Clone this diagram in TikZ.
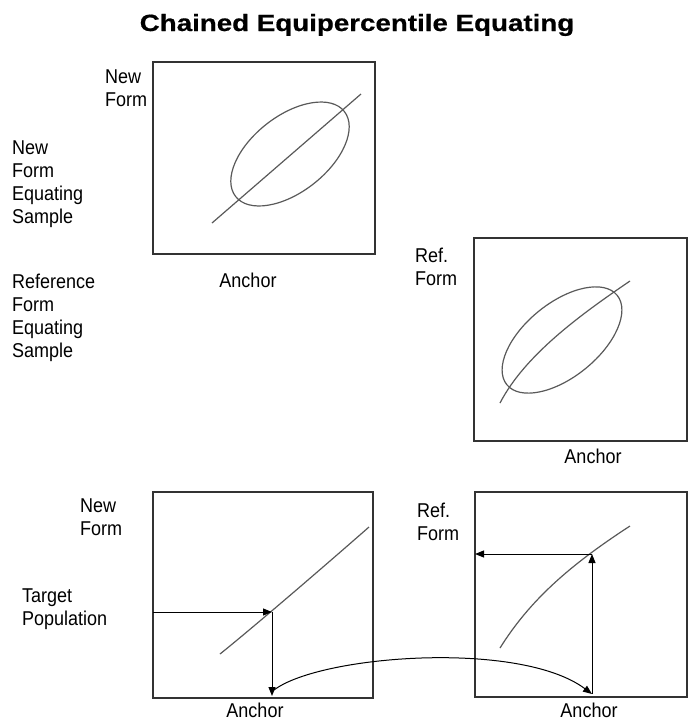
\documentclass[tikz,border=0pt]{standalone}
\usepackage{fontspec}
\setmainfont{Liberation Sans}[FakeStretch=0.9]
\newfontfamily\titlefont{Liberation Sans}[FakeStretch=1.18,FakeBold=0.6]
\usetikzlibrary{arrows.meta}
\newcommand\lbl[1]{\begin{tabular}[t]{@{}l@{}}#1\end{tabular}}
\tikzset{
  plotbox/.style={draw=black!80, line width=1.3pt},
  plotcurve/.style={draw=black!65, line width=1.2pt},
  arr/.style={draw=black, line width=1pt, -{Triangle[length=9pt,width=7pt]}},
  txt/.style={font=\fontsize{20}{23}\selectfont, inner sep=0pt},
  ttl/.style={font=\titlefont\bfseries\fontsize{23.5}{27}\selectfont, inner sep=0pt}
}
\begin{document}
\begin{tikzpicture}[x=1pt,y=1pt]
\useasboundingbox (0,0) rectangle (688,-721);
% title
\node[ttl, anchor=base] (title) at (357,-31) {Chained Equipercentile Equating};

% boxes
\draw[plotbox] (153,-62) rectangle (375,-254);
\draw[plotbox] (474,-238) rectangle (687,-441);
\draw[plotbox] (153,-492) rectangle (373,-698);
\draw[plotbox] (475,-492) rectangle (687,-697);

% box 1 content
\draw[plotcurve, rotate around={38:(290,-154)}] (290,-154) ellipse [x radius=69pt, y radius=38pt];
\draw[plotcurve] (212,-223) -- (361,-94);

% box 2 content
\draw[plotcurve, rotate around={39:(562,-340)}] (562,-340) ellipse [x radius=71pt, y radius=37pt];
\draw[plotcurve] (500,-403) .. controls (525,-355) and (580,-315) .. (630,-281);

% box 3 content
\draw[plotcurve] (220,-654) .. controls (250,-630) and (320,-570) .. (369,-527);
\coordinate (l3) at (153,-612);
\coordinate (p3) at (272,-612);
\coordinate (q3) at (272,-696);
\draw[arr] (l3) -- (p3);
\draw[arr] (p3) -- (q3);

% box 4 content
\draw[plotcurve] (500,-648) .. controls (530,-600) and (570,-565) .. (630,-526);
\coordinate (p4) at (592,-554);
\coordinate (q4) at (592,-694);
\coordinate (l4) at (475,-554);
\draw[arr] (q4) -- (p4);
\draw[arr] (p4) -- (l4);

% connecting curve
\coordinate (c0) at (274,-690);
\draw[arr] (c0) .. controls (320,-655) and (520,-640) .. (q4);

% labels
\node[txt, anchor=base west] (nf1) at (105,-83) {\lbl{New\\Form}};
\node[txt, anchor=base west] (nfes) at (12,-154) {\lbl{New\\Form\\Equating\\Sample}};
\node[txt, anchor=base west] (rfes) at (12,-288) {\lbl{Reference\\Form\\Equating\\Sample}};
\node[txt, anchor=base] (a1) at (248,-287) {Anchor};
\node[txt, anchor=base west] (rf2) at (415,-262) {\lbl{Ref.\\Form}};
\node[txt, anchor=base] (a2) at (593,-463) {Anchor};
\node[txt, anchor=base west] (nf3) at (80,-512) {\lbl{New\\Form}};
\node[txt, anchor=base west] (tp) at (22,-602) {\lbl{Target\\Population}};
\node[txt, anchor=base] (a3) at (255,-717) {Anchor};
\node[txt, anchor=base west] (rf4) at (417,-517) {\lbl{Ref.\\Form}};
\node[txt, anchor=base] (a4) at (589,-717) {Anchor};
\end{tikzpicture}
\end{document}
